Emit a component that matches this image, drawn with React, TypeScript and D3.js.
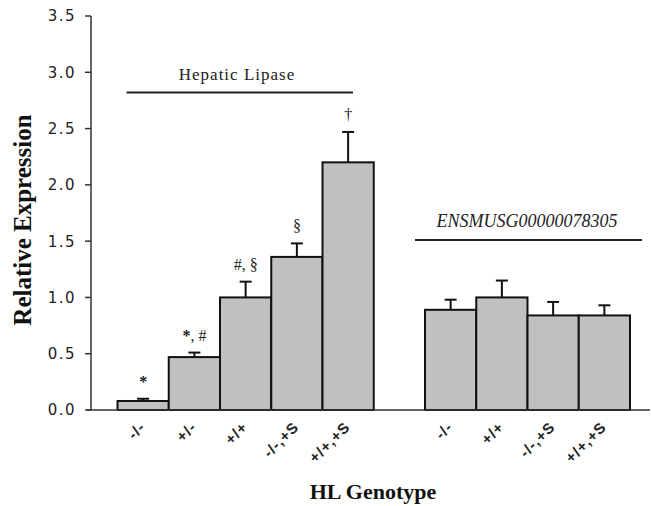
import React from "react";
import * as d3 from "d3";

// Hepatic Lipase group
const hlGenotypes = ["-/-", "+/-", "+/+", "-/-,+S", "+/+,+S"];
const hlMeans = [0.08, 0.47, 1.0, 1.36, 2.2];
const hlErrors = [0.02, 0.04, 0.14, 0.12, 0.27];
const hlMarks = ["*", "*, #", "#, §", "§", "†"];

// ENSMUSG00000078305 group
const ensGenotypes = ["-/-", "+/+", "-/-,+S", "+/+,+S"];
const ensMeans = [0.89, 1.0, 0.84, 0.84];
const ensErrors = [0.09, 0.15, 0.12, 0.09];

const yTicks = [0, 0.5, 1.0, 1.5, 2.0, 2.5, 3.0, 3.5];

const width = 652;
const height = 506;

const App = () => {
  // one empty slot between the two groups
  const bars = [
    ...hlGenotypes.map((g, i) => ({ key: "hl" + i, label: g, mean: hlMeans[i], err: hlErrors[i], mark: hlMarks[i] })),
    null,
    ...ensGenotypes.map((g, i) => ({ key: "ens" + i, label: g, mean: ensMeans[i], err: ensErrors[i], mark: "" })),
  ];

  const x = d3
    .scaleBand<number>()
    .domain(d3.range(bars.length))
    .range([117.5, 630])
    .padding(0);
  const y = d3.scaleLinear().domain([0, 3.5]).range([410, 16]);
  const axisX = 91;
  const tickFont = "'DejaVu Sans', sans-serif";
  const labelFont = "'Liberation Sans', Arial, sans-serif";
  const serif = "'Liberation Serif', 'Times New Roman', serif";

  return (
    <div style={{ position: "absolute", left: 0, top: 0 }}>
      <svg width={width} height={height} style={{ display: "block", background: "#fff" }}>
        {/* bars */}
        {bars.map((b, i) =>
          b ? (
            <g key={b.key}>
              <line
                x1={x(i)! + x.bandwidth() / 2}
                x2={x(i)! + x.bandwidth() / 2}
                y1={y(b.mean)}
                y2={y(b.mean + b.err)}
                stroke="#111"
                strokeWidth={2}
              />
              <line
                x1={x(i)! + x.bandwidth() / 2 - 6}
                x2={x(i)! + x.bandwidth() / 2 + 6}
                y1={y(b.mean + b.err)}
                y2={y(b.mean + b.err)}
                stroke="#111"
                strokeWidth={2}
              />
              <rect
                x={x(i)!}
                y={y(b.mean)}
                width={x.bandwidth()}
                height={y(0) - y(b.mean)}
                fill="#c0c0c0"
                stroke="#111"
                strokeWidth={2}
              />
              {b.mark && (
                <text
                  x={x(i)! + x.bandwidth() / 2}
                  y={y(b.mean + b.err) - 12}
                  textAnchor="middle"
                  fontFamily={serif}
                  fontSize={16}
                  fill="#222"
                >
                  {b.mark.split("").map((c, k) => (
                    <tspan key={k} fontWeight={c === "*" ? "bold" : "normal"}>
                      {c}
                    </tspan>
                  ))}
                </text>
              )}
              <text
                transform={`translate(${x(i)! + x.bandwidth() / 2 + 3},${428}) rotate(-45)`}
                textAnchor="end"
                fontFamily={labelFont}
                fontWeight="bold"
                fontSize={15}
                letterSpacing={1}
                fill="#222"
              >
                {b.label}
              </text>
            </g>
          ) : null
        )}

        {/* x axis line */}
        <line x1={axisX - 4} x2={650} y1={y(0)} y2={y(0)} stroke="#333" strokeWidth={1.5} />

        {/* y axis */}
        <line x1={axisX} x2={axisX} y1={y(0)} y2={y(3.5)} stroke="#333" strokeWidth={1.5} />
        {yTicks.map((t) => (
          <g key={t}>
            <line x1={axisX - 6} x2={axisX} y1={y(t)} y2={y(t)} stroke="#333" strokeWidth={1.5} />
            <text
              x={axisX - 15}
              y={y(t)}
              dy="0.36em"
              textAnchor="end"
              fontFamily={tickFont}
              fontSize={15}
              letterSpacing={1.5}
              fill="#222"
            >
              {t.toFixed(1)}
            </text>
          </g>
        ))}

        {/* group labels */}
        <text x={237} y={80} textAnchor="middle" fontFamily={serif} fontSize={17} letterSpacing={1} fill="#222">
          Hepatic Lipase
        </text>
        <line x1={126.5} x2={353} y1={92.5} y2={92.5} stroke="#222" strokeWidth={2} />
        <text x={527} y={227} textAnchor="middle" fontFamily={serif} fontStyle="italic" fontSize={18} fill="#222">
          ENSMUSG00000078305
        </text>
        <line x1={415} x2={642} y1={240} y2={240} stroke="#222" strokeWidth={2} />

        {/* axis titles */}
        <text
          transform={`translate(31,220) rotate(-90)`}
          textAnchor="middle"
          fontFamily={serif}
          fontWeight="bold"
          fontSize={25}
          fill="#111"
        >
          Relative Expression
        </text>
        <text x={373} y={499} textAnchor="middle" fontFamily={serif} fontWeight="bold" fontSize={22} fill="#111">
          HL Genotype
        </text>
      </svg>
    </div>
  );
};

export default App;
